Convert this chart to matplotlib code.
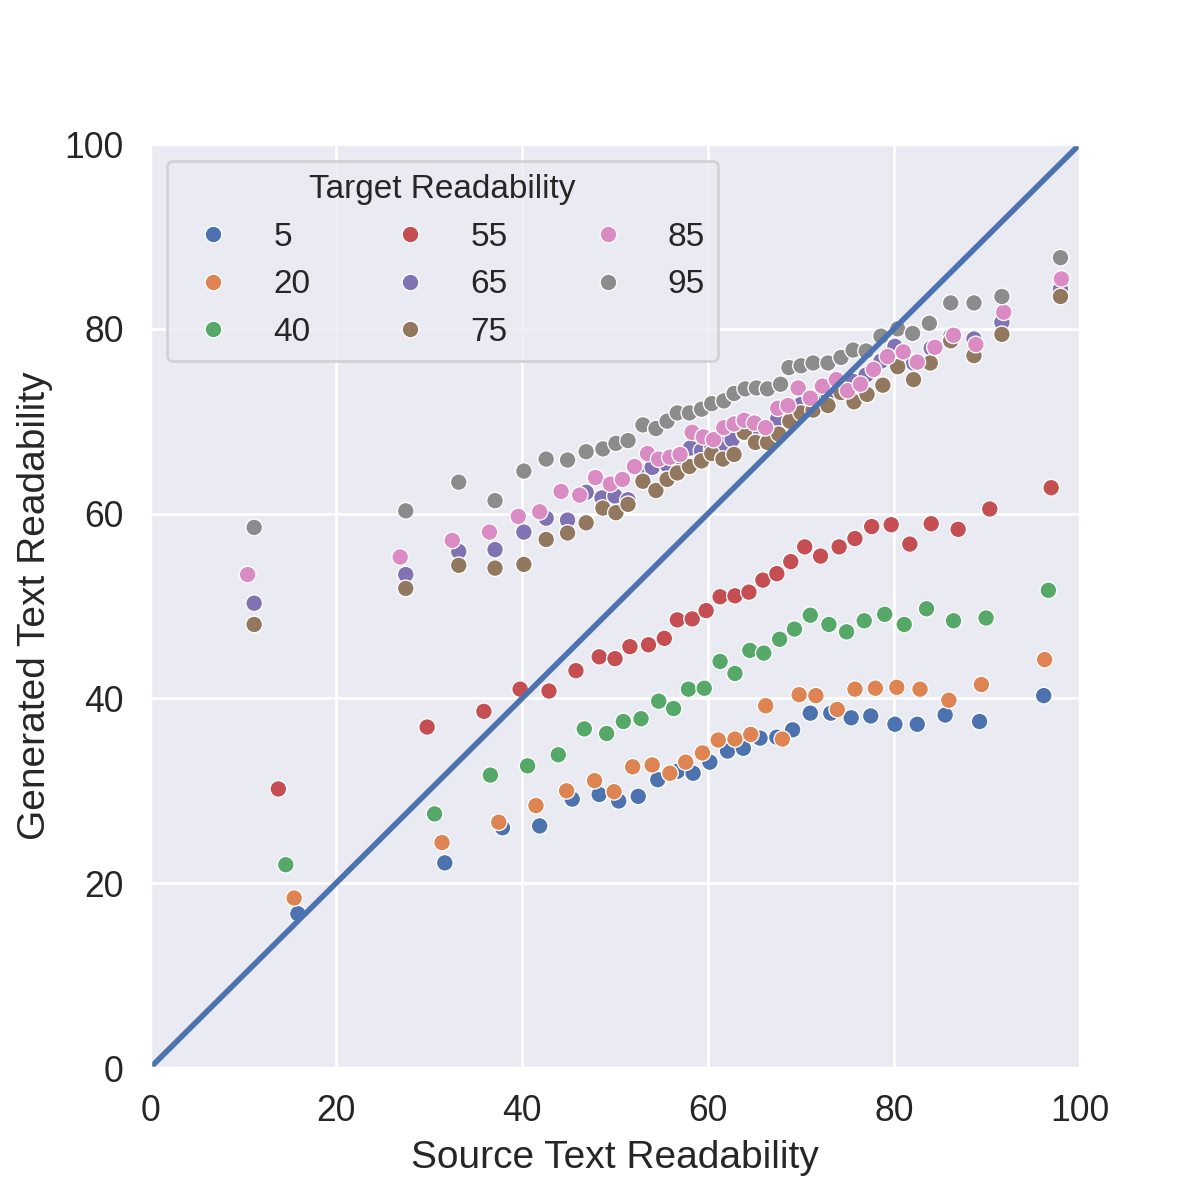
import pandas as pd
import matplotlib
matplotlib.use("Agg")
import matplotlib.pyplot as plt
import seaborn as sns

# Readability of source vs generated text, grouped by target readability
targets = ["5", "20", "40", "55", "65", "75", "85", "95"]

x_5 = [15.9, 31.7, 37.9, 41.9, 45.4, 48.3, 50.4, 52.5, 54.6, 56.7, 58.4, 60.2, 62.1,
       63.8, 65.6, 67.4, 69.1, 71.0, 73.2, 75.4, 77.5, 80.1, 82.5, 85.5, 89.2, 96.1]
y_5 = [16.7, 22.2, 26.0, 26.2, 29.1, 29.6, 28.9, 29.4, 31.2, 32.1, 31.9, 33.1, 34.3,
       34.6, 35.7, 35.8, 36.6, 38.4, 38.4, 37.9, 38.1, 37.2, 37.2, 38.2, 37.5, 40.3]

x_20 = [15.5, 31.4, 37.5, 41.5, 44.8, 47.8, 49.9, 51.9, 54.0, 55.9, 57.6, 59.4, 61.1, 62.9,
        64.6, 66.2, 68.0, 69.8, 71.6, 73.9, 75.8, 78.0, 80.3, 82.8, 85.9, 89.4, 96.2]
y_20 = [18.4, 24.4, 26.6, 28.4, 30.0, 31.1, 29.9, 32.6, 32.8, 31.9, 33.1, 34.1, 35.5, 35.6,
        36.1, 39.2, 35.6, 40.4, 40.3, 38.8, 41.0, 41.1, 41.2, 41.0, 39.8, 41.5, 44.2]

x_40 = [14.6, 30.6, 36.6, 40.6, 43.9, 46.7, 49.1, 50.9, 52.8, 54.7, 56.3, 57.9, 59.6, 61.3, 62.9,
        64.5, 66.0, 67.7, 69.3, 71.0, 73.0, 74.9, 76.8, 79.0, 81.1, 83.5, 86.4, 89.9, 96.6]
y_40 = [22.0, 27.5, 31.7, 32.7, 33.9, 36.7, 36.2, 37.5, 37.8, 39.7, 38.9, 41.0, 41.1, 44.0, 42.7,
        45.2, 44.9, 46.4, 47.5, 49.0, 48.0, 47.2, 48.4, 49.1, 48.0, 49.7, 48.4, 48.7, 51.7]

x_55 = [13.8, 29.8, 35.9, 39.8, 42.9, 45.8, 48.3, 50.0, 51.6, 53.6, 55.3, 56.7, 58.3, 59.8, 61.3, 62.9,
        64.4, 65.9, 67.4, 68.9, 70.4, 72.1, 74.1, 75.8, 77.6, 79.7, 81.7, 84.0, 86.9, 90.3, 96.9]
y_55 = [30.2, 36.9, 38.6, 41.0, 40.8, 43.0, 44.5, 44.3, 45.6, 45.8, 46.5, 48.5, 48.6, 49.5, 51.0, 51.1,
        51.5, 52.8, 53.5, 54.8, 56.4, 55.4, 56.4, 57.3, 58.6, 58.8, 56.7, 58.9, 58.3, 60.5, 62.8]

x_65 = [11.2, 27.5, 33.2, 37.1, 40.2, 42.6, 44.9, 46.9, 48.6, 50.0, 51.4, 53.0, 54.0, 55.6, 56.7, 58.1,
        59.3, 60.4, 61.6, 62.6, 63.9, 64.9, 66.4, 67.5, 68.8, 70.0, 71.3, 72.9, 74.3, 75.6, 77.0, 78.6,
        80.1, 82.1, 84.0, 86.1, 88.6, 91.6, 97.9]
y_65 = [50.3, 53.4, 55.9, 56.1, 58.0, 59.5, 59.3, 62.3, 61.7, 61.9, 61.5, 64.5, 65.0, 65.3, 65.8, 67.1,
        66.8, 67.0, 67.5, 68.0, 68.7, 69.1, 69.0, 70.3, 71.0, 71.8, 72.5, 73.0, 73.8, 74.3, 75.0, 76.5,
        78.1, 76.3, 77.9, 79.2, 78.9, 80.7, 84.3]

x_75 = [11.2, 27.5, 33.2, 37.1, 40.2, 42.6, 44.9, 46.9, 48.7, 50.1, 51.4, 53.0, 54.4, 55.6, 56.7, 58.0,
        59.3, 60.4, 61.6, 62.8, 63.9, 65.1, 66.4, 67.6, 68.8, 70.0, 71.3, 72.9, 74.3, 75.7, 77.1, 78.8,
        80.4, 82.1, 83.9, 86.1, 88.6, 91.6, 97.9]
y_75 = [48.0, 51.9, 54.4, 54.1, 54.5, 57.2, 57.9, 59.0, 60.6, 60.1, 61.0, 63.5, 62.5, 63.7, 64.4, 65.1,
        65.7, 66.5, 65.9, 66.4, 68.8, 67.7, 67.7, 68.6, 70.0, 70.9, 71.2, 71.7, 73.1, 72.1, 72.9, 73.9,
        75.9, 74.5, 76.3, 78.7, 77.1, 79.4, 83.5]

x_85 = [10.5, 26.9, 32.5, 36.5, 39.6, 41.9, 44.2, 46.2, 47.9, 49.5, 50.8, 52.1, 53.5, 54.7, 55.9, 57.0,
        58.3, 59.5, 60.6, 61.7, 62.8, 63.9, 65.0, 66.2, 67.5, 68.6, 69.7, 71.0, 72.3, 73.8, 75.0, 76.4,
        77.8, 79.3, 81.0, 82.5, 84.4, 86.4, 88.8, 91.8, 98.0]
y_85 = [53.4, 55.3, 57.1, 58.0, 59.7, 60.2, 62.4, 62.0, 63.9, 63.2, 63.7, 65.1, 66.5, 65.9, 66.1, 66.4,
        68.8, 68.3, 68.0, 69.3, 69.7, 70.1, 69.8, 69.3, 71.4, 71.7, 73.6, 72.5, 73.8, 74.5, 73.3, 74.0,
        75.6, 77.0, 77.5, 76.4, 78.0, 79.3, 78.3, 81.8, 85.4]

x_95 = [11.2, 27.5, 33.2, 37.1, 40.2, 42.6, 44.9, 46.9, 48.7, 50.1, 51.4, 53.0, 54.4, 55.6, 56.7, 58.0,
        59.3, 60.4, 61.7, 62.8, 64.0, 65.2, 66.4, 67.8, 68.7, 70.0, 71.3, 72.9, 74.3, 75.6, 77.0, 78.6,
        80.4, 82.0, 83.8, 86.1, 88.6, 91.6, 97.9]
y_95 = [58.5, 60.3, 63.4, 61.4, 64.6, 65.9, 65.8, 66.7, 67.0, 67.6, 67.9, 69.6, 69.2, 70.0, 70.9, 70.9,
        71.3, 71.9, 72.2, 73.0, 73.5, 73.6, 73.5, 74.0, 75.8, 76.0, 76.3, 76.3, 76.9, 77.7, 77.6, 79.2,
        80.0, 79.5, 80.6, 82.8, 82.8, 83.5, 87.7]

# identity line y = x
identity = [0, 100]

series = {
    "5": (x_5, y_5), "20": (x_20, y_20), "40": (x_40, y_40), "55": (x_55, y_55),
    "65": (x_65, y_65), "75": (x_75, y_75), "85": (x_85, y_85), "95": (x_95, y_95),
}
rows = []
for t in targets:
    xs, ys = series[t]
    for xv, yv in zip(xs, ys):
        rows.append({"Source Text Readability": xv,
                     "Generated Text Readability": yv,
                     "Target Readability": t})
df = pd.DataFrame(rows)

sns.set_theme(style="darkgrid")
plt.rcParams["font.family"] = ["Liberation Sans", "DejaVu Sans"]
plt.rcParams["xtick.labelsize"] = 12.8
plt.rcParams["ytick.labelsize"] = 12.8
plt.rcParams["axes.labelsize"] = 14

fig, ax = plt.subplots(figsize=(6, 6), dpi=200)
sns.scatterplot(data=df, x="Source Text Readability", y="Generated Text Readability",
                hue="Target Readability", hue_order=targets, palette="deep", s=36, ax=ax)
ax.plot(identity, identity, color=sns.color_palette("deep")[0], lw=2)

ax.set_xlim(0, 100)
ax.set_ylim(0, 100)
ax.set_xticks([0, 20, 40, 60, 80, 100])
ax.set_yticks([0, 20, 40, 60, 80, 100])

sns.move_legend(ax, "upper left", ncol=3, title="Target Readability",
                fontsize=12, title_fontsize=12)

fig.savefig("out.png", dpi=200)
